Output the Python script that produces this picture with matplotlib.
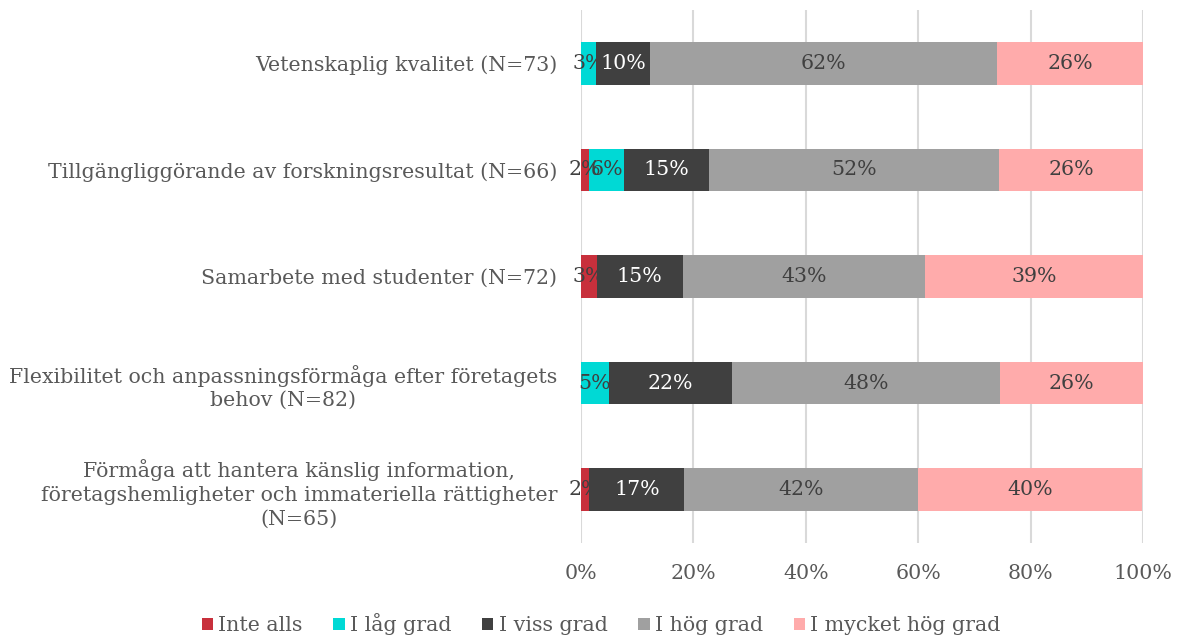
import matplotlib
matplotlib.use("Agg")
import matplotlib.pyplot as plt
import numpy as np

categories = [
    "Vetenskaplig kvalitet (N=73)",
    "Tillgängliggörande av forskningsresultat (N=66)",
    "Samarbete med studenter (N=72)",
    "Flexibilitet och anpassningsförmåga efter företagets\nbehov (N=82)",
    "Förmåga att hantera känslig information,\nföretagshemligheter och immateriella rättigheter\n(N=65)",
]
series_names = ["Inte alls", "I låg grad", "I viss grad", "I hög grad", "I mycket hög grad"]
inte_alls = [0.0, 1.5, 2.8, 0.0, 1.5]
lag_grad = [2.7, 6.1, 0.0, 4.9, 0.0]
viss_grad = [9.6, 15.2, 15.3, 22.0, 16.9]
hog_grad = [61.7, 51.5, 43.1, 47.6, 41.5]
mycket_hog = [26.0, 25.8, 38.9, 25.6, 40.0]
xtick_labels = ["0%", "20%", "40%", "60%", "80%", "100%"]

colors = ["#C8303C", "#00D9D5", "#404040", "#A0A0A0", "#FFABAB"]
label_colors = ["#404040", "#404040", "white", "#404040", "#404040"]

FS = 14.8
plt.rcParams["font.family"] = ["DejaVu Serif"]
W, H = 1181, 639
fig = plt.figure(figsize=(W / 100, H / 100), dpi=100)
ax = fig.add_axes([581 / W, 1 - 543 / H, (1143 - 581) / W, (543 - 10) / H])

y = np.arange(len(categories))
left = np.zeros(len(categories))
data = [inte_alls, lag_grad, viss_grad, hog_grad, mycket_hog]
for name, vals, c, lc in zip(series_names, data, colors, label_colors):
    vals = np.array(vals)
    bars = ax.barh(y, vals, left=left, height=0.4, color=c, label=name, zorder=3)
    for b, v in zip(bars, vals):
        if v > 0:
            ax.text(b.get_x() + b.get_width() / 2, b.get_y() + b.get_height() / 2,
                    f"{int(round(v))}%", ha="center", va="center", color=lc,
                    fontsize=FS, zorder=4)
    left = left + vals

ax.set_xlim(0, 100)
ax.set_ylim(4.5, -0.5)
ax.set_xticks(np.arange(0, 101, 20))
ax.set_xticklabels(xtick_labels)
ax.set_yticks(y)
ax.set_yticklabels(categories, multialignment="center", linespacing=1.3)
ax.tick_params(axis="both", length=0, labelsize=FS, labelcolor="#595959")
ax.tick_params(axis="y", pad=17)
ax.tick_params(axis="x", pad=15)
ax.xaxis.grid(True, color="#D9D9D9", linewidth=1.5, zorder=0)
ax.set_axisbelow(True)
for s in ax.spines.values():
    s.set_visible(False)

leg = fig.legend(loc="center", bbox_to_anchor=(0.509, 1 - 624 / H), ncol=5,
                 frameon=False, fontsize=FS, handlelength=0.55, handleheight=0.55,
                 handletextpad=0.25, columnspacing=1.5, labelcolor="#595959")

fig.savefig("out.png", dpi=100)
